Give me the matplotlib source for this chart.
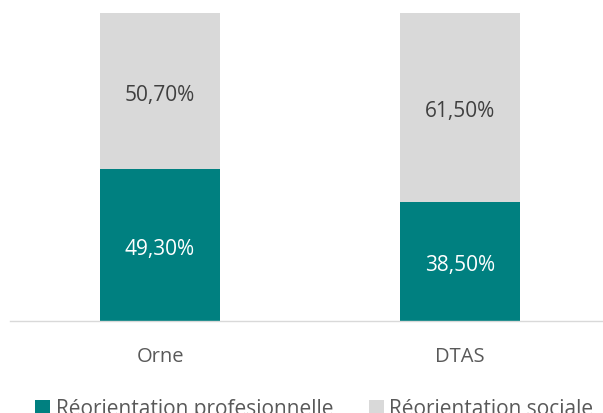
import matplotlib.pyplot as plt
import matplotlib.transforms as mtransforms
import numpy as np

categories = ["Orne", "DTAS"]
pro = [49.30, 38.50]
sociale = [50.70, 61.50]
series_names = ["Réorientation profesionnelle", "Réorientation sociale"]

TEAL = "#008080"
GREY = "#d9d9d9"

plt.rcParams["font.family"] = ["Open Sans", "DejaVu Sans"]

fig = plt.figure(figsize=(6.03, 4.14), dpi=100)
ax = fig.add_axes([10 / 603, 92 / 414, 600 / 603, 308 / 414])

x = np.arange(len(categories))
b1 = ax.bar(x, pro, width=0.4, color=TEAL, label=series_names[0])
b2 = ax.bar(x, sociale, width=0.4, bottom=pro, color=GREY, label=series_names[1])

# nudge labels down a little, Calibri sits lower than Open Sans
lbl_tr = mtransforms.offset_copy(ax.transData, fig=fig, y=-3, units="dots")
fmt = lambda v: f"{v:.2f}%".replace(".", ",")
for xi, p, s in zip(x, pro, sociale):
    ax.text(xi, p / 2, fmt(p), ha="center", va="center", color="white",
            fontsize=15, transform=lbl_tr)
    ax.text(xi, p + s / 2, fmt(s), ha="center", va="center", color="#404040",
            fontsize=15, transform=lbl_tr)

ax.set_xlim(-0.5, 1.5)
ax.set_ylim(0, 100)
ax.set_xticks(x)
ax.set_xticklabels(categories, fontsize=14.5, color="#595959")
ax.tick_params(axis="x", length=0, pad=18)
ax.set_yticks([])
for side in ["top", "left", "right"]:
    ax.spines[side].set_visible(False)
ax.spines["bottom"].set_color("#d9d9d9")
ax.spines["bottom"].set_linewidth(1)

fig.legend(handles=[b1, b2], labels=series_names, loc="center", bbox_to_anchor=(0.521, 4 / 414),
           ncol=2, frameon=False, fontsize=15, handlelength=0.72, handleheight=0.72,
           handletextpad=0.25, columnspacing=1.7, labelcolor="#595959")

fig.savefig("out.png", dpi=100)
